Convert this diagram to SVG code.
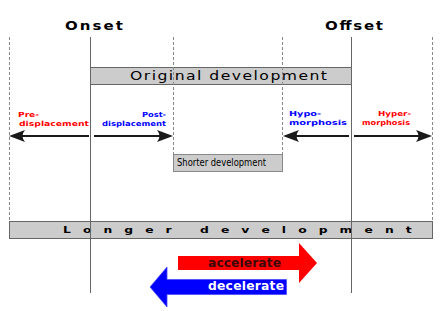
<svg xmlns="http://www.w3.org/2000/svg" width="440" height="311" viewBox="0 0 440 311">
<defs>
<style>
.bg{fill:#fff}
.box{fill:#cccccc;stroke:#666;stroke-width:1}
.sbox{fill:#cccccc;stroke:#888;stroke-width:1}
.vsolid{stroke:#666;stroke-width:1;fill:none}
.vdash{stroke:#888;stroke-width:1;stroke-dasharray:3,2;fill:none}
.conn{stroke:#1a1a1a;stroke-width:2;fill:none;marker-end:url(#ah)}
.hdr{font-family:"DejaVu Sans",sans-serif;font-weight:bold;font-size:12.5px;fill:#000}
.lbl{font-family:"DejaVu Sans",sans-serif;font-weight:bold;font-size:7px}
.red{fill:#ff0000}
.blue{fill:#0000ff}
.boxt{font-family:"DejaVu Sans",sans-serif;font-size:12.5px;fill:#000}
.small{font-family:"DejaVu Sans",sans-serif;font-size:10px;fill:#000}
.long{font-family:"DejaVu Sans",sans-serif;font-weight:bold;font-size:8.8px;fill:#000}
.big{font-family:"DejaVu Sans",sans-serif;font-weight:bold;font-size:12.3px}
</style>
<marker id="ah" viewBox="-12 -7 18 14" refX="0" refY="0" markerWidth="18" markerHeight="14" markerUnits="userSpaceOnUse" orient="auto">
<path d="M5,0 L-11,-6 Q-6,0 -11,6 Z" fill="#1a1a1a"/>
</marker>
</defs>
<rect class="bg" x="0" y="0" width="440" height="311"/>

<g id="onset-label"><text class="hdr" transform="translate(65,30) scale(1.2,1)" x="0" y="0" textLength="48.3" lengthAdjust="spacing">Onset</text></g>
<g id="offset-label"><text class="hdr" transform="translate(325,30) scale(1.2,1)" x="0" y="0" textLength="48.3" lengthAdjust="spacing">Offset</text></g>

<g id="original-development">
<rect class="box" x="90.5" y="67.5" width="261" height="17"/>
<text class="boxt" transform="translate(130,80) scale(1.25,1)" x="0" y="0" textLength="157.6" lengthAdjust="spacing">Original development</text>
</g>

<g id="shorter-development">
<rect class="sbox" x="173.5" y="154.5" width="109" height="17"/>
<text class="small" x="177" y="166" textLength="89" lengthAdjust="spacingAndGlyphs">Shorter development</text>
</g>

<g id="longer-development">
<rect class="box" x="9.5" y="221.5" width="423" height="17"/>
<text class="long" transform="translate(63,233) scale(1.4,1)" x="0" y="0" textLength="249" lengthAdjust="spacing">Longer development</text>
</g>

<g id="guides">
<line class="vdash" x1="9.5" y1="37" x2="9.5" y2="221"/>
<line class="vsolid" x1="90.5" y1="37" x2="90.5" y2="293"/>
<line class="vdash" x1="173.5" y1="37" x2="173.5" y2="154"/>
<line class="vdash" x1="282.5" y1="37" x2="282.5" y2="154"/>
<line class="vsolid" x1="351.5" y1="37" x2="351.5" y2="293"/>
<line class="vdash" x1="432.5" y1="37" x2="432.5" y2="221"/>
</g>

<g id="connectors">
<line class="conn" x1="89" y1="136" x2="14" y2="136"/>
<line class="conn" x1="94" y1="136" x2="168" y2="136"/>
<line class="conn" x1="349" y1="136" x2="288" y2="136"/>
<line class="conn" x1="354" y1="136" x2="427" y2="136"/>
</g>

<g id="pre-displacement">
<text class="lbl red" x="18" y="117" textLength="21" lengthAdjust="spacingAndGlyphs">Pre-</text>
<text class="lbl red" x="19" y="126" textLength="70" lengthAdjust="spacingAndGlyphs">displacement</text>
</g>
<g id="post-displacement">
<text class="lbl blue" x="142" y="117" textLength="24" lengthAdjust="spacingAndGlyphs">Post-</text>
<text class="lbl blue" x="102" y="126" textLength="64" lengthAdjust="spacingAndGlyphs">displacement</text>
</g>
<g id="hypomorphosis">
<text class="lbl blue" x="289" y="116" textLength="32" lengthAdjust="spacingAndGlyphs">Hypo-</text>
<text class="lbl blue" x="289" y="125" textLength="58" lengthAdjust="spacingAndGlyphs">morphosis</text>
</g>
<g id="hypermorphosis">
<text class="lbl red" x="378" y="116" textLength="33" lengthAdjust="spacingAndGlyphs">Hyper-</text>
<text class="lbl red" x="362" y="125" textLength="48" lengthAdjust="spacingAndGlyphs">morphosis</text>
</g>

<g id="accelerate">
<polygon points="178,256 299,256 299,243 317,263 299,283 299,270 178,270" fill="#ff0000"/>
<text class="big" x="208" y="267" textLength="73" lengthAdjust="spacing" fill="#3a0808">accelerate</text>
</g>
<g id="decelerate">
<polygon points="286.5,279.5 167,279.5 167,267 150,287 167,307 167,294.5 286.5,294.5" fill="#0000ff" stroke="#4d4dff" stroke-width="0.8"/>
<text class="big" x="208" y="290" textLength="76" lengthAdjust="spacing" fill="#ffffff">decelerate</text>
</g>
</svg>
